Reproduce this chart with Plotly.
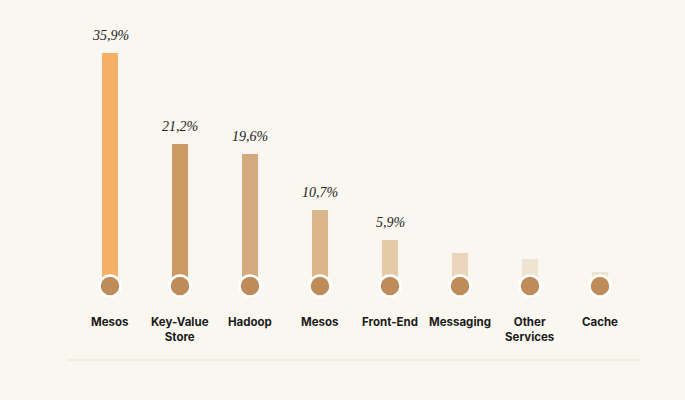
import plotly.graph_objects as go

categories = ["Mesos", "Key-Value<br>Store", "Hadoop", "Mesos", "Front-End", "Messaging", "Other<br>Services", "Cache"]
values = [35.9, 21.2, 19.6, 10.7, 5.9, 3.8, 2.8, 0.7]
bar_colors = ["#F5B066", "#CC9964", "#D4A97B", "#DBB68D", "#E6CAA8", "#EAD5BA", "#EFE4D1", "#EFE4D1"]
value_labels = ["35,9%", "21,2%", "19,6%", "10,7%", "5,9%", "", "", ""]

x_pos = list(range(len(categories)))
bg = "#F9F7F0"

fig = go.Figure()

fig.add_trace(go.Bar(
    x=x_pos, y=values, width=0.215,
    marker=dict(color=bar_colors, line=dict(width=0)),
    hoverinfo="skip", showlegend=False,
))

# circle "bulbs" below each bar
fig.add_trace(go.Scatter(
    x=x_pos, y=[-1.52] * len(x_pos), mode="markers",
    marker=dict(size=21, color="#BE8C59", line=dict(color="white", width=2.5)),
    hoverinfo="skip", showlegend=False,
))

# percentage labels
for xi, v, lab in zip(x_pos, values, value_labels):
    if lab:
        fig.add_annotation(
            x=xi, y=v, text=lab, showarrow=False, yanchor="bottom", yshift=8,
            font=dict(family="Liberation Serif", size=14, color="#222222", style="italic"),
        )

# category labels
for xi, c in zip(x_pos, categories):
    fig.add_annotation(
        x=xi, y=-5.9, text=c, showarrow=False, yanchor="top",
        font=dict(family="Inter", size=11.5, color="#1a1a1a", weight=700),
    )

fig.add_shape(type="line", xref="paper", yref="paper", x0=-0.014, x1=1.009, y0=0, y1=0,
              line=dict(color="#E6E3DA", width=1))

fig.update_layout(
    width=685, height=400,
    margin=dict(l=75, r=50, t=20, b=40),
    paper_bgcolor=bg, plot_bgcolor=bg,
    xaxis=dict(range=[-0.5, 7.5], visible=False),
    yaxis=dict(range=[-13.4, 41.16], visible=False),
    bargap=0,
)

fig.write_html("out.html", config={"displayModeBar": False},
               post_script="document.body.style.margin='0';document.body.style.background='#F9F7F0';")
